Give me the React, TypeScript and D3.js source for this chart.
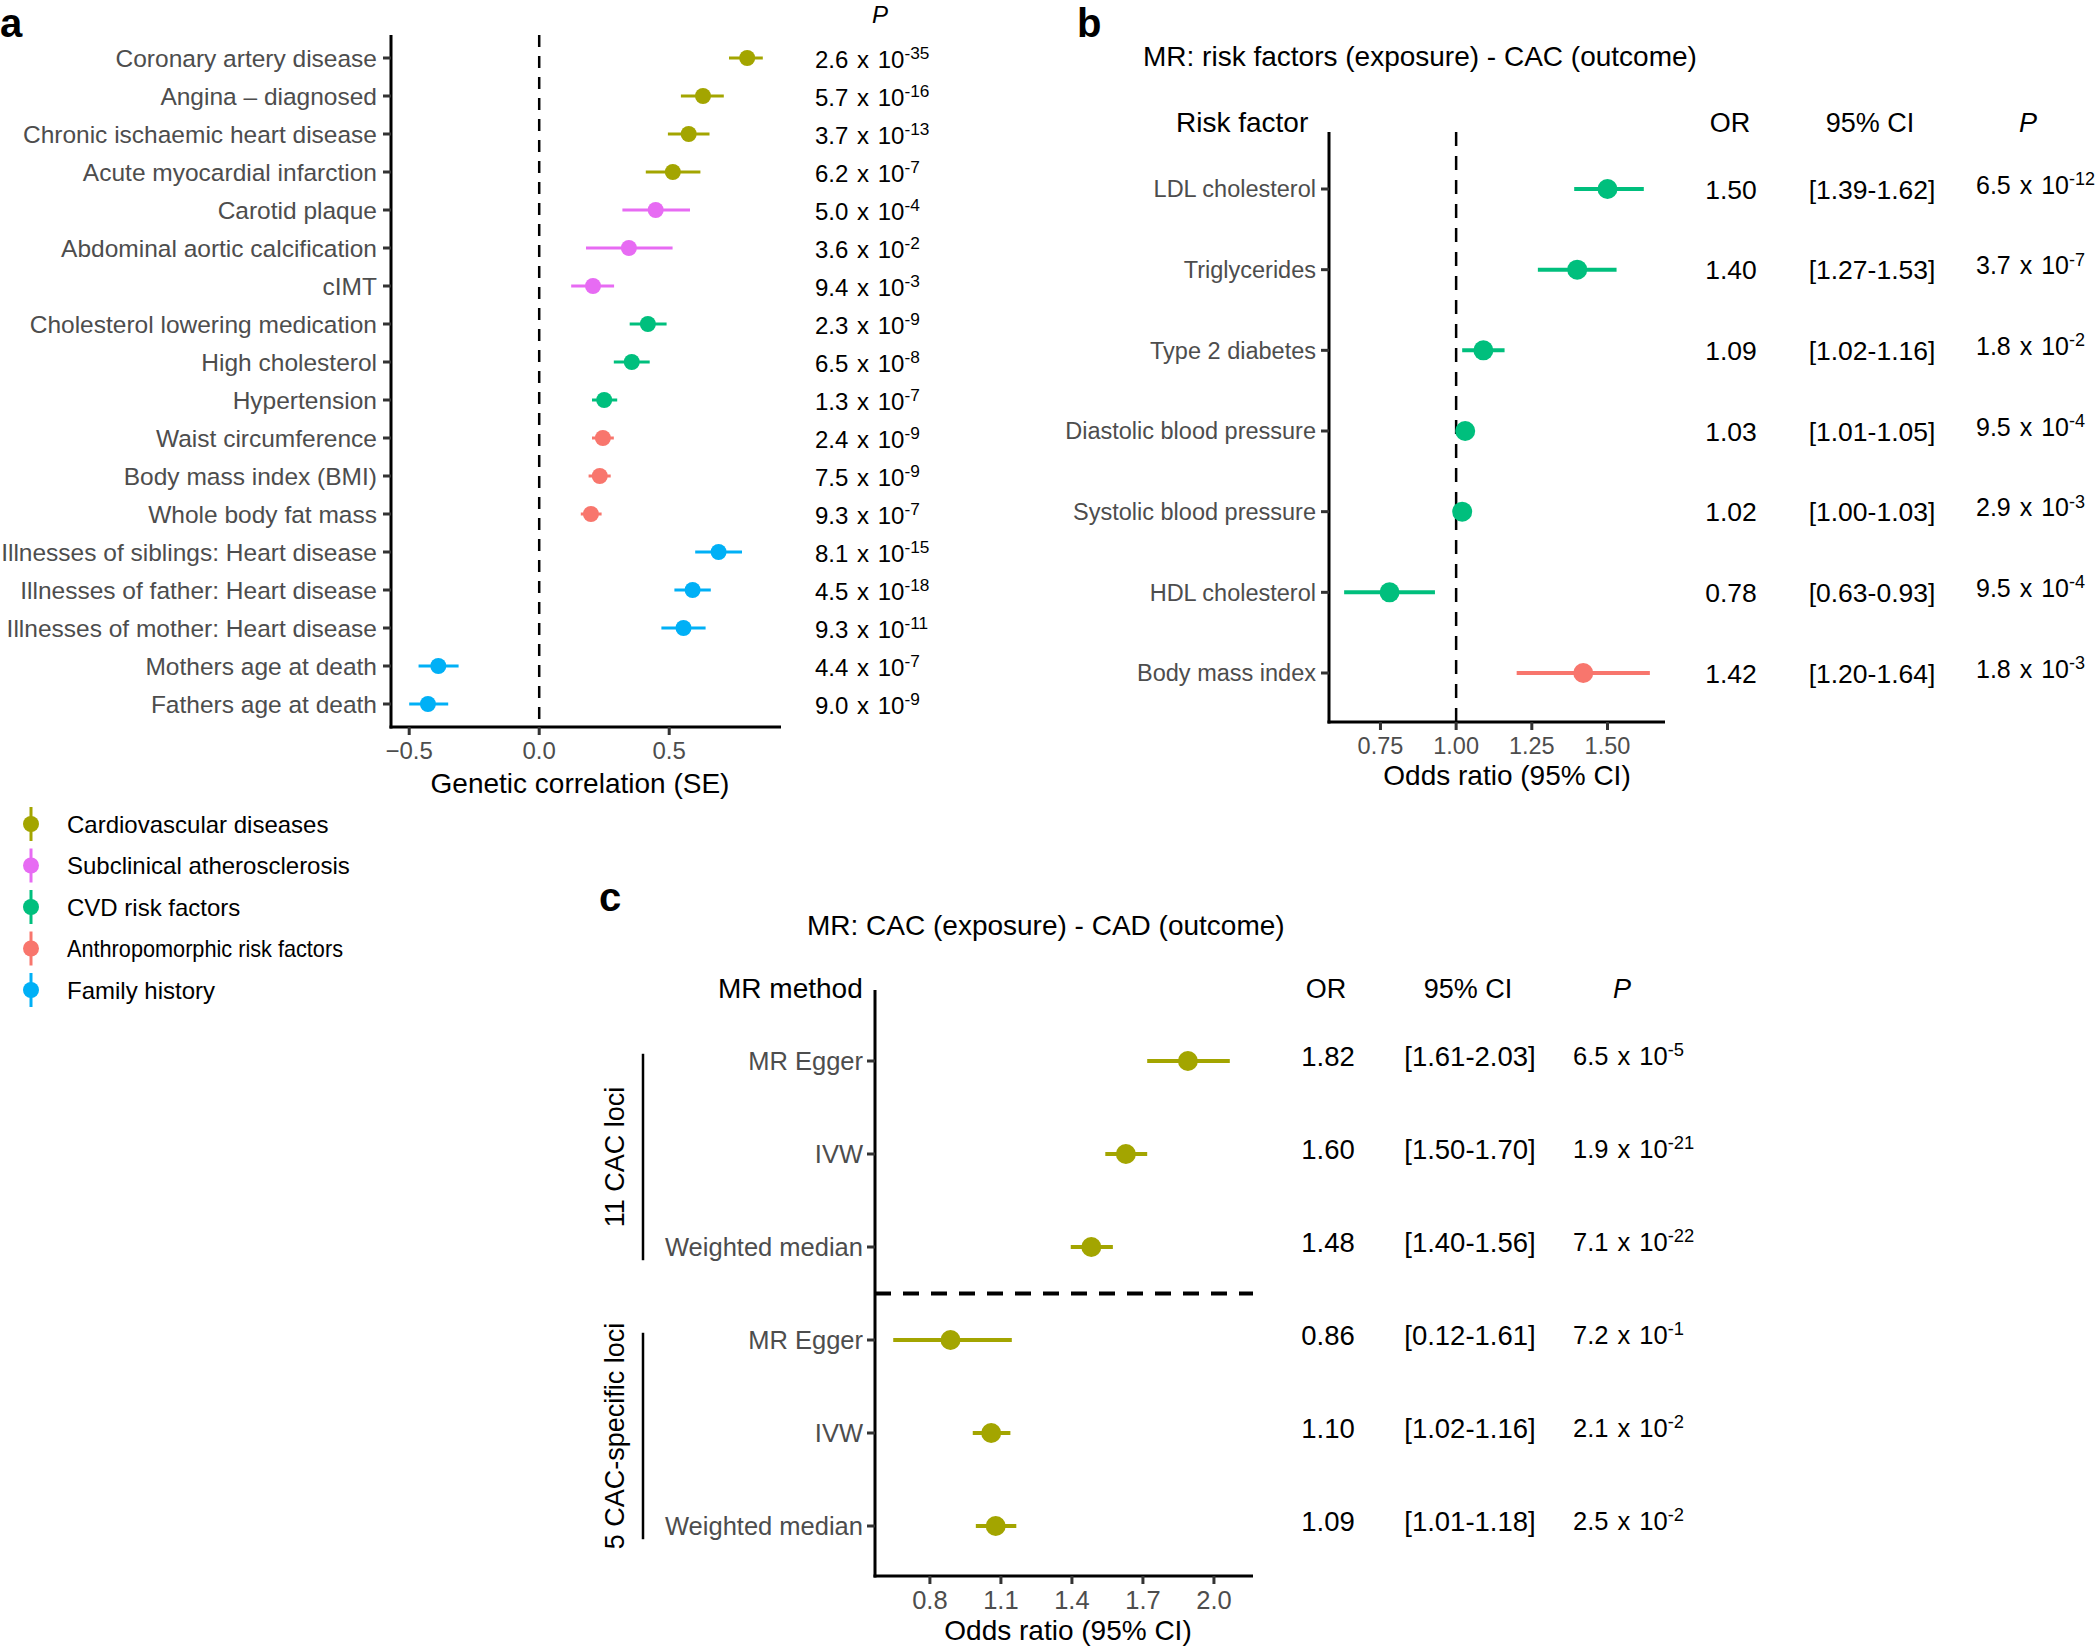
import React from 'react';
import * as d3 from 'd3';

const FONT = "'Liberation Sans', Arial, Helvetica, sans-serif";
const GREY = '#4D4D4D';

// ---------- shared groups ----------
const groupNames = [
  'Cardiovascular diseases',
  'Subclinical atherosclerosis',
  'CVD risk factors',
  'Anthropomorphic risk factors',
  'Family history',
];
const groupColors = ['#A3A500', '#E76BF3', '#00BF7D', '#F8766D', '#00B0F6'];

// ---------- panel a ----------
const aTraits = [
  'Coronary artery disease',
  'Angina \u2013 diagnosed',
  'Chronic ischaemic heart disease',
  'Acute myocardial infarction',
  'Carotid plaque',
  'Abdominal aortic calcification',
  'cIMT',
  'Cholesterol lowering medication',
  'High cholesterol',
  'Hypertension',
  'Waist circumference',
  'Body mass index (BMI)',
  'Whole body fat mass',
  'Illnesses of siblings: Heart disease',
  'Illnesses of father: Heart disease',
  'Illnesses of mother: Heart disease',
  'Mothers age at death',
  'Fathers age at death',
];
const aGroup = [
  'Cardiovascular diseases', 'Cardiovascular diseases', 'Cardiovascular diseases', 'Cardiovascular diseases',
  'Subclinical atherosclerosis', 'Subclinical atherosclerosis', 'Subclinical atherosclerosis',
  'CVD risk factors', 'CVD risk factors', 'CVD risk factors',
  'Anthropomorphic risk factors', 'Anthropomorphic risk factors', 'Anthropomorphic risk factors',
  'Family history', 'Family history', 'Family history', 'Family history', 'Family history',
];
const aEst = [0.80, 0.63, 0.575, 0.514, 0.448, 0.345, 0.207, 0.418, 0.356, 0.25, 0.245, 0.233, 0.199, 0.69, 0.59, 0.555, -0.388, -0.428];
const aLow = [0.73, 0.545, 0.495, 0.41, 0.32, 0.18, 0.123, 0.348, 0.287, 0.203, 0.203, 0.19, 0.16, 0.60, 0.52, 0.47, -0.464, -0.50];
const aHigh = [0.86, 0.71, 0.655, 0.62, 0.58, 0.513, 0.288, 0.49, 0.425, 0.30, 0.287, 0.275, 0.24, 0.78, 0.66, 0.64, -0.31, -0.35];
const aPMant = ['2.6', '5.7', '3.7', '6.2', '5.0', '3.6', '9.4', '2.3', '6.5', '1.3', '2.4', '7.5', '9.3', '8.1', '4.5', '9.3', '4.4', '9.0'];
const aPExp = ['-35', '-16', '-13', '-7', '-4', '-2', '-3', '-9', '-8', '-7', '-9', '-9', '-7', '-15', '-18', '-11', '-7', '-9'];
const aTicks = [-0.5, 0, 0.5];
const aTickLabels = ['\u22120.5', '0.0', '0.5'];

// ---------- panel b ----------
const bTraits = [
  'LDL cholesterol',
  'Triglycerides',
  'Type 2 diabetes',
  'Diastolic blood pressure',
  'Systolic blood pressure',
  'HDL cholesterol',
  'Body mass index',
];
const bGroup = [
  'CVD risk factors', 'CVD risk factors', 'CVD risk factors', 'CVD risk factors',
  'CVD risk factors', 'CVD risk factors', 'Anthropomorphic risk factors',
];
const bOR = [1.50, 1.40, 1.09, 1.03, 1.02, 0.78, 1.42];
const bLow = [1.39, 1.27, 1.02, 1.01, 1.00, 0.63, 1.20];
const bHigh = [1.62, 1.53, 1.16, 1.05, 1.03, 0.93, 1.64];
const bORText = ['1.50', '1.40', '1.09', '1.03', '1.02', '0.78', '1.42'];
const bCIText = ['[1.39-1.62]', '[1.27-1.53]', '[1.02-1.16]', '[1.01-1.05]', '[1.00-1.03]', '[0.63-0.93]', '[1.20-1.64]'];
const bPMant = ['6.5', '3.7', '1.8', '9.5', '2.9', '9.5', '1.8'];
const bPExp = ['-12', '-7', '-2', '-4', '-3', '-4', '-3'];
const bTicks = [0.75, 1.0, 1.25, 1.5];

// ---------- panel c ----------
const cMethods = ['MR Egger', 'IVW', 'Weighted median', 'MR Egger', 'IVW', 'Weighted median'];
const cFacet = ['11 CAC loci', '11 CAC loci', '11 CAC loci', '5 CAC-specific loci', '5 CAC-specific loci', '5 CAC-specific loci'];
const cFacetNames = ['11 CAC loci', '5 CAC-specific loci'];
const cEst = [1.89, 1.628, 1.482, 0.887, 1.059, 1.078];
const cLow = [1.718, 1.541, 1.395, 0.645, 0.981, 0.994];
const cHigh = [2.067, 1.718, 1.573, 1.146, 1.14, 1.165];
const cORText = ['1.82', '1.60', '1.48', '0.86', '1.10', '1.09'];
const cCIText = ['[1.61-2.03]', '[1.50-1.70]', '[1.40-1.56]', '[0.12-1.61]', '[1.02-1.16]', '[1.01-1.18]'];
const cPMant = ['6.5', '1.9', '7.1', '7.2', '2.1', '2.5'];
const cPExp = ['-5', '-21', '-22', '-1', '-2', '-2'];
const cTicks = [0.8, 1.1, 1.4, 1.7, 2.0];

const color = d3.scaleOrdinal<string, string>().domain(groupNames).range(groupColors);

function PVal({ x, y, mant, exp, fs }: { x: number; y: number; mant: string; exp: string; fs: number }) {
  return (
    <text x={x} y={y} fontSize={fs} fontFamily={FONT} fill="#000" style={{ wordSpacing: '2px', whiteSpace: 'pre' }}>
      {mant + ' x 10'}
      <tspan fontSize={fs * 0.72} dy={-fs * 0.34}>{exp}</tspan>
    </text>
  );
}

export default function App() {
  // ----- panel a scales -----
  const ax = d3.scaleLinear().domain([-0.57, 0.93]).range([391, 781]);
  const ay = d3.scalePoint<number>().domain(d3.range(aTraits.length)).range([58, 704]);
  const aTop = 35, aBot = 727;

  // ----- panel b scales -----
  const bx = d3.scaleLinear().domain([0.58, 1.69]).range([1329, 1665]);
  const by = d3.scalePoint<number>().domain(d3.range(bTraits.length)).range([189, 673]);
  const bTop = 132, bBot = 722;

  // ----- panel c scales -----
  const cx = d3.scaleLinear().domain([0.568, 2.165]).range([875, 1253]);
  const cy = d3.scalePoint<number>().domain(d3.range(cMethods.length)).range([1061, 1526]);
  const cTop = 990, cBot = 1576;
  const cStep = cy.step();

  const axisStroke = 3;

  return (
    <svg
      width={2100}
      height={1646}
      style={{ position: 'absolute', left: 0, top: 0, background: '#fff' }}
      fontFamily={FONT}
    >
      <rect x={0} y={0} width={2100} height={1646} fill="#fff" />

      {/* ================= Panel a ================= */}
      <text x={0} y={37} fontSize={40} fontWeight="bold" fill="#000">a</text>
      <text x={880} y={23} fontSize={24} fontStyle="italic" textAnchor="middle" fill="#000">P</text>

      <line x1={ax(0)} x2={ax(0)} y1={aTop} y2={aBot} stroke="#000" strokeWidth={2.5} strokeDasharray="12 9" />
      <line x1={391} x2={391} y1={aTop} y2={aBot + 1.5} stroke="#000" strokeWidth={axisStroke} />
      <line x1={391 - 1.5} x2={781} y1={aBot} y2={aBot} stroke="#000" strokeWidth={axisStroke} />

      {aTraits.map((t, i) => {
        const y = ay(i)!;
        const c = color(aGroup[i]);
        return (
          <g key={'a' + i}>
            <line x1={383} x2={391} y1={y} y2={y} stroke="#333" strokeWidth={3} />
            <text x={377} y={y + 8.7} fontSize={24.5} textAnchor="end" fill={GREY}>{t}</text>
            <line x1={ax(aLow[i])} x2={ax(aHigh[i])} y1={y} y2={y} stroke={c} strokeWidth={3} />
            <circle cx={ax(aEst[i])} cy={y} r={8} fill={c} />
            <PVal x={815} y={y + 9.5} mant={aPMant[i]} exp={aPExp[i]} fs={24} />
          </g>
        );
      })}
      {aTicks.map((t, i) => (
        <g key={'at' + i}>
          <line x1={ax(t)} x2={ax(t)} y1={aBot} y2={aBot + 8} stroke="#333" strokeWidth={3} />
          <text x={ax(t)} y={759} fontSize={24} textAnchor="middle" fill={GREY}>{aTickLabels[i]}</text>
        </g>
      ))}
      <text x={580} y={793} fontSize={28} textAnchor="middle" fill="#000">Genetic correlation (SE)</text>

      {/* legend */}
      {groupNames.map((g, i) => {
        const y = 824 + i * 41.5;
        const condensed = g === 'Anthropomorphic risk factors';
        return (
          <g key={'lg' + i}>
            <line x1={31} x2={31} y1={y - 17} y2={y + 17} stroke={groupColors[i]} strokeWidth={3} />
            <circle cx={31} cy={y} r={8} fill={groupColors[i]} />
            <text
              x={67}
              y={y + 8.5}
              fontSize={24}
              fill="#000"
              {...(condensed ? { textLength: 276, lengthAdjust: 'spacingAndGlyphs' } : {})}
            >
              {g}
            </text>
          </g>
        );
      })}

      {/* ================= Panel b ================= */}
      <text x={1077} y={37} fontSize={40} fontWeight="bold" fill="#000">b</text>
      <text x={1143} y={66} fontSize={28} fill="#000">MR: risk factors (exposure) - CAC (outcome)</text>
      <text x={1176} y={132} fontSize={28} fill="#000">Risk factor</text>
      <text x={1730} y={132} fontSize={27} textAnchor="middle" fill="#000">OR</text>
      <text x={1870} y={132} fontSize={27} textAnchor="middle" fill="#000">95% CI</text>
      <text x={2028} y={132} fontSize={27} fontStyle="italic" textAnchor="middle" fill="#000">P</text>

      <line x1={bx(1)} x2={bx(1)} y1={bTop} y2={bBot} stroke="#000" strokeWidth={2.5} strokeDasharray="14 10" />
      <line x1={1329} x2={1329} y1={bTop} y2={bBot + 1.5} stroke="#000" strokeWidth={axisStroke} />
      <line x1={1329 - 1.5} x2={1665} y1={bBot} y2={bBot} stroke="#000" strokeWidth={axisStroke} />

      {bTraits.map((t, i) => {
        const y = by(i)!;
        const c = color(bGroup[i]);
        return (
          <g key={'b' + i}>
            <line x1={1321} x2={1329} y1={y} y2={y} stroke="#333" strokeWidth={3} />
            <text x={1316} y={y + 8.3} fontSize={23.5} textAnchor="end" fill={GREY}>{t}</text>
            <line x1={bx(bLow[i])} x2={bx(bHigh[i])} y1={y} y2={y} stroke={c} strokeWidth={4} />
            <circle cx={bx(bOR[i])} cy={y} r={10} fill={c} />
            <text x={1731} y={y + 9.5} fontSize={26.5} textAnchor="middle" fill="#000">{bORText[i]}</text>
            <text x={1872} y={y + 9.5} fontSize={26.5} textAnchor="middle" fill="#000">{bCIText[i]}</text>
            <PVal x={1976} y={y + 4.5} mant={bPMant[i]} exp={bPExp[i]} fs={25} />
          </g>
        );
      })}
      {bTicks.map((t, i) => (
        <g key={'bt' + i}>
          <line x1={bx(t)} x2={bx(t)} y1={bBot} y2={bBot + 8} stroke="#333" strokeWidth={3} />
          <text x={bx(t)} y={754} fontSize={23.5} textAnchor="middle" fill={GREY}>{d3.format('.2f')(t)}</text>
        </g>
      ))}
      <text x={1507} y={785} fontSize={28} textAnchor="middle" fill="#000">Odds ratio (95% CI)</text>

      {/* ================= Panel c ================= */}
      <text x={599} y={911} fontSize={40} fontWeight="bold" fill="#000">c</text>
      <text x={807} y={935} fontSize={28} fill="#000">MR: CAC (exposure) - CAD (outcome)</text>
      <text x={718} y={998} fontSize={28} fill="#000">MR method</text>
      <text x={1326} y={998} fontSize={27} textAnchor="middle" fill="#000">OR</text>
      <text x={1468} y={998} fontSize={27} textAnchor="middle" fill="#000">95% CI</text>
      <text x={1622} y={998} fontSize={27} fontStyle="italic" textAnchor="middle" fill="#000">P</text>

      <line x1={875} x2={875} y1={cTop} y2={cBot + 1.5} stroke="#000" strokeWidth={axisStroke} />
      <line x1={875 - 1.5} x2={1253} y1={cBot} y2={cBot} stroke="#000" strokeWidth={axisStroke} />
      <line
        x1={875}
        x2={1253}
        y1={(cy(2)! + cy(3)!) / 2}
        y2={(cy(2)! + cy(3)!) / 2}
        stroke="#000"
        strokeWidth={4}
        strokeDasharray="16 12"
      />

      {cFacetNames.map((f, k) => {
        const idx = cFacet.map((v, i) => (v === f ? i : -1)).filter((i) => i >= 0);
        const y0 = cy(idx[0])!;
        const y1 = cy(idx[idx.length - 1])!;
        const mid = (y0 + y1) / 2 + 3;
        const half = cStep * 1.11;
        return (
          <g key={'cf' + k}>
            <line x1={643} x2={643} y1={mid - half} y2={mid + half} stroke="#000" strokeWidth={2.5} />
            <text
              transform={`translate(624,${mid}) rotate(-90)`}
              fontSize={27}
              textAnchor="middle"
              fill="#000"
            >
              {f}
            </text>
          </g>
        );
      })}

      {cMethods.map((m, i) => {
        const y = cy(i)!;
        const c = groupColors[0];
        return (
          <g key={'c' + i}>
            <line x1={867} x2={875} y1={y} y2={y} stroke="#333" strokeWidth={3} />
            <text x={863} y={y + 9} fontSize={25.5} textAnchor="end" fill={GREY}>{m}</text>
            <line x1={cx(cLow[i])} x2={cx(cHigh[i])} y1={y} y2={y} stroke={c} strokeWidth={4} />
            <circle cx={cx(cEst[i])} cy={y} r={10} fill={c} />
            <text x={1328} y={y + 5} fontSize={27.5} textAnchor="middle" fill="#000">{cORText[i]}</text>
            <text x={1470} y={y + 5} fontSize={27.5} textAnchor="middle" fill="#000">{cCIText[i]}</text>
            <PVal x={1573} y={y + 4} mant={cPMant[i]} exp={cPExp[i]} fs={25.5} />
          </g>
        );
      })}
      {cTicks.map((t, i) => (
        <g key={'ct' + i}>
          <line x1={cx(t)} x2={cx(t)} y1={cBot} y2={cBot + 8} stroke="#333" strokeWidth={3} />
          <text x={cx(t)} y={1609} fontSize={25.5} textAnchor="middle" fill={GREY}>{d3.format('.1f')(t)}</text>
        </g>
      ))}
      <text x={1068} y={1640} fontSize={28} textAnchor="middle" fill="#000">Odds ratio (95% CI)</text>
    </svg>
  );
}
